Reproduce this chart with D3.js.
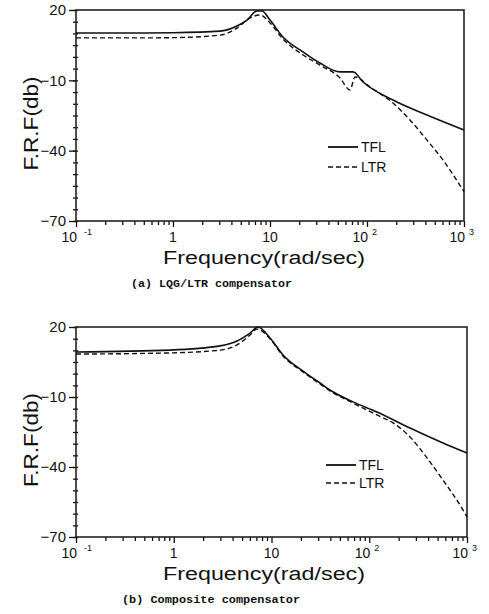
<!DOCTYPE html>
<html>
<head>
<meta charset="utf-8">
<script src="https://cdn.jsdelivr.net/npm/d3@7"></script>
<style>
  body { margin: 0; background: #fff; }
  svg { display: block; font-family: "Liberation Sans", Arial, sans-serif; }
</style>
</head>
<body>
<svg id="chart" width="489" height="614"></svg>
<script>
// values: frequency (rad/sec) and gain (dB)
var freqA_TFL = [0.1, 0.5, 1, 3.05, 4.57, 5.8, 7.35, 8.27, 10, 13.6, 21.9, 32.7, 52.7, 71.8, 91, 185, 415, 1000];
var dbA_TFL   = [10.2, 10.2, 10.3, 11.0, 13.2, 15.7, 19.6, 19.6, 15.7, 8.5, 2.1, -2.6, -6.4, -6.4, -10.7, -18.4, -24.8, -31.2];
var freqA_LTR = [0.1, 0.5, 1, 3.05, 4.57, 6.22, 7.89, 10, 13.6, 21.9, 32.7, 52.7, 66.8, 75.2, 107, 185, 277, 415, 608, 1000];
var dbA_LTR   = [8.1, 8.1, 8.2, 9.3, 12.3, 16.6, 17.9, 14.5, 7.6, 0.8, -3.5, -9.0, -14.1, -8.6, -12.8, -19.7, -26.9, -35.5, -44.0, -57.5];

var freqB_TFL = [0.1, 0.92, 2.97, 4.44, 6.03, 7.28, 9.66, 13.1, 21.0, 31.3, 39.6, 68.2, 120, 261, 568, 1000];
var dbB_TFL   = [9.3, 10.1, 11.9, 14.0, 17.4, 20, 15.3, 8.0, 1.1, -4.0, -7.0, -12.1, -16.4, -23.3, -29.7, -34.0];
var freqB_LTR = [0.1, 0.92, 2.97, 4.44, 6.03, 7.1, 9.66, 13.1, 21.0, 31.3, 39.6, 68.2, 120, 175, 261, 390, 568, 910, 1000];
var dbB_LTR   = [8.4, 8.9, 10.1, 12.3, 16.6, 19.1, 14.9, 7.6, 0.7, -4.4, -7.4, -12.6, -17.7, -21.1, -27.1, -36.1, -45.6, -58.4, -61.4];

var yMajor = [20, -10, -40, -70];
var xMajor = [0.1, 1, 10, 100, 1000];
var xLabels = [["10", "-1"], ["1", ""], ["10", ""], ["10", "2"], ["10", "3"]];
var seriesNames = ["TFL", "LTR"];
var captions = ["(a) LQG/LTR compensator", "(b) Composite compensator"];

var svg = d3.select("#chart");

// layout of the two panels
var panels = [
  { top: 10, bottom: 221, left: 76, right: 464, legX: 328, legY: [147, 167],
    tfl: [freqA_TFL, dbA_TFL], ltr: [freqA_LTR, dbA_LTR], caption: captions[0], capX: 131, capW: 161 },
  { top: 327, bottom: 537, left: 76, right: 467, legX: 326, legY: [465, 483],
    tfl: [freqB_TFL, dbB_TFL], ltr: [freqB_LTR, dbB_LTR], caption: captions[1], capX: 122, capW: 178 }
];

panels.forEach(function(p) { drawPanel(p); });

function zip(f, v) {
  return f.map(function(d, i) { return { f: d, v: v[i] }; });
}

function styleTicks(s) {
  s.select(".domain").remove();
  s.selectAll("line").attr("stroke", "#111").attr("stroke-width", 1.3);
}

function drawPanel(p) {
  var x = d3.scaleLog().domain([0.1, 1000]).range([p.left, p.right]);
  var y = d3.scaleLinear().domain([-70, 20]).range([p.bottom, p.top]);
  var g = svg.append("g");

  // minor x ticks (2..9 of each decade)
  var minor = [];
  for (var e = -1; e < 3; e++) for (var k = 2; k < 10; k++) minor.push(k * Math.pow(10, e));

  g.append("g").attr("transform", "translate(0," + p.bottom + ")")
    .call(d3.axisBottom(x).tickValues(minor).tickSize(4).tickFormat(""))
    .call(styleTicks);
  g.append("g").attr("transform", "translate(0," + p.bottom + ")")
    .call(d3.axisBottom(x).tickValues(xMajor).tickSize(6).tickFormat(""))
    .call(styleTicks);

  // y ticks: minor every 5 dB crossing the axis, majors pointing out
  var yMinor = d3.range(-70, 21, 5);
  g.append("g").attr("transform", "translate(" + (p.left + 2) + ",0)")
    .call(d3.axisLeft(y).tickValues(yMinor).tickSize(5).tickFormat(""))
    .call(styleTicks);
  g.append("g").attr("transform", "translate(" + p.left + ",0)")
    .call(d3.axisLeft(y).tickValues(yMajor).tickSize(7).tickPadding(3).tickFormat(function(d) { return d < 0 ? "\u2212" + (-d) : d; }))
    .call(styleTicks)
    .call(function(s) {
      s.selectAll("text").attr("font-size", 15).attr("font-family", "Liberation Sans").attr("fill", "#111");
    });

  // frame
  g.append("rect").attr("x", p.left).attr("y", p.top)
    .attr("width", p.right - p.left).attr("height", p.bottom - p.top)
    .attr("fill", "none").attr("stroke", "#222").attr("stroke-width", 1.6);

  // x tick labels with superscripts
  xMajor.forEach(function(v, i) {
    var lab = xLabels[i];
    var t = g.append("text").attr("y", p.bottom + 21).attr("font-size", 14).attr("fill", "#111");
    if (lab[1] === "") {
      t.attr("x", x(v)).attr("text-anchor", "middle").text(lab[0]);
    } else {
      t.attr("x", x(v) + 1).attr("text-anchor", "end").text(lab[0]);
      g.append("text").attr("x", x(v) + (lab[1] === "-1" ? 8 : 5)).attr("y", p.bottom + 14)
        .attr("font-size", 9).attr("fill", "#111").text(lab[1]);
    }
  });

  // axis titles
  g.append("text").attr("x", 163).attr("y", p.bottom + 43)
    .attr("font-size", 18).attr("fill", "#111")
    .attr("textLength", 202).attr("lengthAdjust", "spacingAndGlyphs")
    .text("Frequency(rad/sec)");
  var cy = (p.top + p.bottom) / 2 + 8;
  g.append("text").attr("transform", "translate(38," + cy + ") rotate(-90)")
    .attr("text-anchor", "middle").attr("font-size", 20).attr("fill", "#111")
    .attr("textLength", 94).attr("lengthAdjust", "spacingAndGlyphs")
    .text("F.R.F(db)");

  // curves
  var line = d3.line().x(function(d) { return x(d.f); }).y(function(d) { return y(d.v); })
    .curve(d3.curveMonotoneX);
  g.append("path").datum(zip(p.tfl[0], p.tfl[1])).attr("d", line)
    .attr("fill", "none").attr("stroke", "#111").attr("stroke-width", 1.6);
  g.append("path").datum(zip(p.ltr[0], p.ltr[1])).attr("d", line)
    .attr("fill", "none").attr("stroke", "#111").attr("stroke-width", 1.4).attr("stroke-dasharray", "5,3");

  // legend
  seriesNames.forEach(function(name, i) {
    var ly = p.legY[i];
    g.append("line").attr("x1", p.legX).attr("x2", p.legX + 30).attr("y1", ly).attr("y2", ly)
      .attr("stroke", "#111").attr("stroke-width", i === 0 ? 1.8 : 1.4)
      .attr("stroke-dasharray", i === 0 ? null : "5,3");
    g.append("text").attr("x", p.legX + 33).attr("y", ly + 5).attr("font-size", 14)
      .attr("fill", "#111").text(name);
  });

  // caption
  g.append("text").attr("x", p.capX).attr("y", p.bottom + 66)
    .attr("font-family", "Liberation Mono").attr("font-weight", "bold").attr("font-size", 11)
    .attr("fill", "#111")
    .attr("textLength", p.capW).attr("lengthAdjust", "spacingAndGlyphs")
    .text(p.caption);
}
</script>
</body>
</html>
